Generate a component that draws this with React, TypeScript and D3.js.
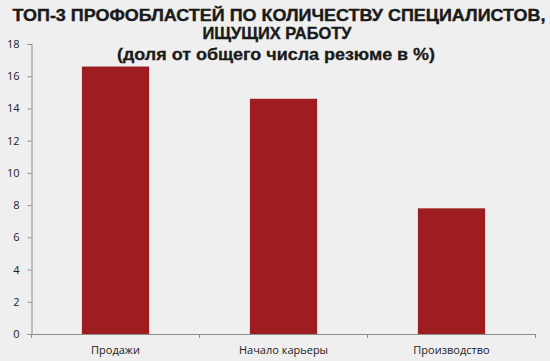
import React, { useRef, useEffect } from 'react';
import * as d3 from 'd3';

const categories = ['Продажи', 'Начало карьеры', 'Производство'];
const values = [16.6, 14.6, 7.8];
const yTicks = [0, 2, 4, 6, 8, 10, 12, 14, 16, 18];
const titleLines = ['ТОП-3 ПРОФОБЛАСТЕЙ ПО КОЛИЧЕСТВУ СПЕЦИАЛИСТОВ,', 'ИЩУЩИХ РАБОТУ'];
const subtitle = '(доля от общего числа резюме в %)';

const W = 550;
const H = 361;

const App: React.FC = () => {
  const svgRef = useRef<SVGSVGElement | null>(null);

  useEffect(() => {
    const svg = d3.select(svgRef.current);
    svg.selectAll('*').remove();

    const left = 31.5, right = 535.5, top = 44, bottom = 334;

    svg.append('rect').attr('width', W).attr('height', H).attr('fill', '#efefef');

    const x = d3.scaleBand<string>().domain(categories).range([left, right]).padding(0);
    const y = d3.scaleLinear().domain([0, 18]).range([bottom, top]);

    // bars
    const barW = x.bandwidth() * 0.4;
    svg.append('g')
      .selectAll('rect')
      .data(values)
      .join('rect')
      .attr('x', (d, i) => (x(categories[i]) as number) + (x.bandwidth() - barW) / 2)
      .attr('y', d => y(d))
      .attr('width', barW)
      .attr('height', d => bottom - y(d))
      .attr('fill', '#9e1d20');

    // y axis
    const yAxis = svg.append('g')
      .attr('transform', `translate(${left},0)`)
      .call(d3.axisLeft(y).tickValues(yTicks).tickSize(4).tickPadding(8));
    yAxis.select('.domain').attr('stroke', '#8c8c8c');
    yAxis.selectAll('.tick line').attr('stroke', '#8c8c8c');
    yAxis.selectAll('.tick text')
      .attr('font-family', 'Open Sans, sans-serif')
      .attr('font-size', 11)
      .attr('fill', '#222');

    // x axis
    const xAxis = svg.append('g')
      .attr('transform', `translate(0,${bottom})`)
      .call(d3.axisBottom(x).tickSize(0).tickPadding(12));
    xAxis.select('.domain').attr('stroke', '#8c8c8c');
    xAxis.selectAll('.tick text')
      .attr('font-family', 'Open Sans, sans-serif')
      .attr('font-size', 11)
      .attr('fill', '#222');
    // category separators
    xAxis.selectAll('line.sep')
      .data([...categories.map(c => x(c) as number), right])
      .join('line')
      .attr('class', 'sep')
      .attr('x1', d => d).attr('x2', d => d)
      .attr('y1', 0).attr('y2', 4)
      .attr('stroke', '#8c8c8c');

    // title
    const titleWidths = [533, 149];
    const titleX = [279, 277];
    svg.selectAll('text.title')
      .data(titleLines)
      .join('text')
      .attr('class', 'title')
      .attr('x', (d, i) => titleX[i])
      .attr('y', (d, i) => 20.7 + i * 18.6)
      .attr('text-anchor', 'middle')
      .attr('font-family', 'Liberation Sans, Arial, sans-serif')
      .attr('font-weight', 'bold')
      .attr('font-size', 17)
      .attr('textLength', (d, i) => titleWidths[i])
      .attr('lengthAdjust', 'spacingAndGlyphs')
      .attr('stroke', '#1a1a1a')
      .attr('stroke-width', 0.4)
      .attr('fill', '#1a1a1a')
      .text(d => d);
    svg.append('text')
      .attr('x', 276)
      .attr('y', 59.5)
      .attr('text-anchor', 'middle')
      .attr('font-family', 'Liberation Sans, Arial, sans-serif')
      .attr('font-weight', 'bold')
      .attr('font-size', 16)
      .attr('textLength', 318)
      .attr('lengthAdjust', 'spacingAndGlyphs')
      .attr('stroke', '#1a1a1a')
      .attr('stroke-width', 0.3)
      .attr('fill', '#1a1a1a')
      .text(subtitle);
  }, []);

  return (
    <svg ref={svgRef} width={W} height={H}
      style={{ position: 'absolute', left: 0, top: 0, display: 'block' }} />
  );
};

export default App;
